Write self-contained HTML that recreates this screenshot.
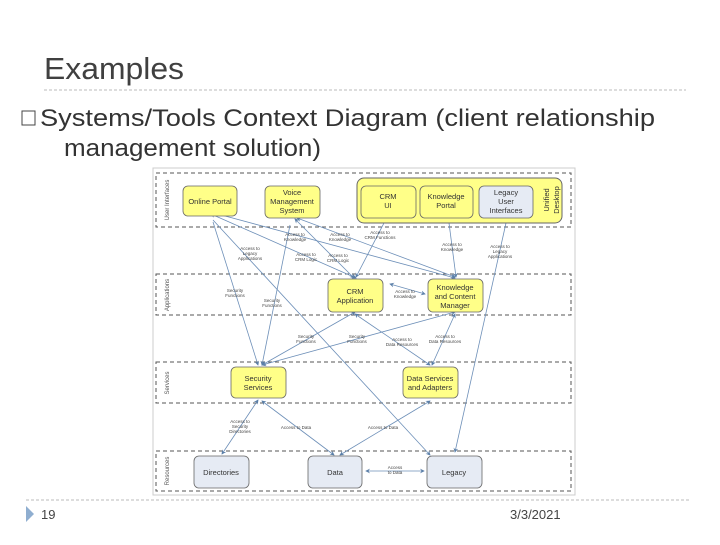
<!DOCTYPE html>
<html><head><meta charset="utf-8"><style>
body{margin:0;width:720px;height:540px;background:#fff;overflow:hidden;font-family:"Liberation Sans",sans-serif}
</style></head><body>
<svg width="720" height="540" viewBox="0 0 720 540" xmlns="http://www.w3.org/2000/svg" font-family="Liberation Sans, sans-serif">
<defs>
<marker id="a" markerWidth="6" markerHeight="6" refX="5" refY="3" orient="auto"><path d="M0,0 L6,3 L0,6 L2,3z" fill="#5b7fa8"/></marker>
<marker id="b" markerWidth="6" markerHeight="6" refX="1" refY="3" orient="auto"><path d="M6,0 L0,3 L6,6 L4,3z" fill="#5b7fa8"/></marker>
</defs>
<text x="44" y="79" font-size="31" fill="#404040" textLength="140" lengthAdjust="spacingAndGlyphs">Examples</text>
<line x1="44" y1="90" x2="686" y2="90" stroke="#bbb" stroke-dasharray="3,2"/>
<rect x="22" y="111" width="13" height="14" fill="none" stroke="#444" stroke-width="1"/>
<text x="40" y="126" font-size="24" fill="#333" textLength="615" lengthAdjust="spacingAndGlyphs">Systems/Tools Context Diagram (client relationship</text>
<text x="64" y="156" font-size="24" fill="#333" textLength="257" lengthAdjust="spacingAndGlyphs">management solution)</text>

<rect x="153" y="168" width="422" height="327" fill="none" stroke="#ccc" stroke-width="1"/>
<g fill="none" stroke="#555" stroke-dasharray="4,3" stroke-width="1">
<rect x="156" y="173" width="415" height="54"/>
<rect x="156" y="274" width="415" height="41"/>
<rect x="156" y="362" width="415" height="41"/>
<rect x="156" y="451" width="415" height="40"/>
</g>
<g font-size="6" fill="#555" text-anchor="middle">
<text transform="translate(169,200) rotate(-90)">User Interfaces</text>
<text transform="translate(169,295) rotate(-90)">Applications</text>
<text transform="translate(169,383) rotate(-90)">Services</text>
<text transform="translate(169,471) rotate(-90)">Resources</text>
</g>

<g stroke="#6d8fb8" stroke-width="0.8" fill="none" marker-end="url(#a)">
<line x1="213" y1="222" x2="258" y2="365"/>
<line x1="290" y1="225" x2="262" y2="365"/>
<line x1="213" y1="220" x2="430" y2="455"/>
<line x1="211" y1="214" x2="356" y2="278" marker-start="url(#b)"/>
<line x1="214" y1="213" x2="455" y2="278" marker-start="url(#b)"/>
<line x1="295" y1="219" x2="354" y2="278" marker-start="url(#b)"/>
<line x1="297" y1="218" x2="455" y2="277" marker-start="url(#b)"/>
<line x1="384" y1="223" x2="356" y2="277"/>
<line x1="449" y1="223" x2="456" y2="277"/>
<line x1="506" y1="223" x2="455" y2="452"/>
<line x1="390" y1="284" x2="425" y2="294" marker-start="url(#b)"/>
<line x1="355" y1="312" x2="262" y2="365" marker-start="url(#b)"/>
<line x1="455" y1="312" x2="262" y2="365" marker-start="url(#b)"/>
<line x1="355" y1="314" x2="430" y2="365" marker-start="url(#b)"/>
<line x1="455" y1="314" x2="432" y2="365" marker-start="url(#b)"/>
<line x1="258" y1="400" x2="222" y2="454" marker-start="url(#b)"/>
<line x1="262" y1="401" x2="334" y2="455" marker-start="url(#b)"/>
<line x1="430" y1="401" x2="340" y2="455" marker-start="url(#b)"/>
<line x1="366" y1="471" x2="424" y2="471" marker-start="url(#b)"/>
</g>

<rect x="357" y="178" width="205" height="45" rx="7" fill="#ffff88" stroke="#666"/>
<g stroke="#666" stroke-width="0.8">
<rect x="183" y="186" width="54" height="30" rx="5" fill="#ffff88"/>
<rect x="265" y="186" width="55" height="32" rx="5" fill="#ffff88"/>
<rect x="361" y="186" width="55" height="32" rx="5" fill="#ffff88"/>
<rect x="420" y="186" width="53" height="32" rx="5" fill="#ffff88"/>
<rect x="479" y="186" width="54" height="32" rx="5" fill="#e6ebf4"/>
<rect x="328" y="279" width="55" height="33" rx="5" fill="#ffff88"/>
<rect x="428" y="279" width="55" height="33" rx="5" fill="#ffff88"/>
<rect x="231" y="367" width="55" height="31" rx="5" fill="#ffff88"/>
<rect x="403" y="367" width="55" height="31" rx="5" fill="#ffff88"/>
<rect x="194" y="456" width="55" height="32" rx="5" fill="#e6ebf4"/>
<rect x="308" y="456" width="54" height="32" rx="5" fill="#e6ebf4"/>
<rect x="427" y="456" width="55" height="32" rx="5" fill="#e6ebf4"/>
</g>
<g font-size="7.5" fill="#333" text-anchor="middle">
<text x="210" y="204">Online Portal</text>
<text x="292" y="195">Voice</text><text x="292" y="204">Management</text><text x="292" y="213">System</text>
<text x="388" y="199">CRM</text><text x="388" y="208">UI</text>
<text x="446" y="199">Knowledge</text><text x="446" y="208">Portal</text>
<text x="506" y="195">Legacy</text><text x="506" y="204">User</text><text x="506" y="213">Interfaces</text>
<text x="355" y="294">CRM</text><text x="355" y="303">Application</text>
<text x="455" y="290">Knowledge</text><text x="455" y="299">and Content</text><text x="455" y="308">Manager</text>
<text x="258" y="381">Security</text><text x="258" y="390">Services</text>
<text x="430" y="381">Data Services</text><text x="430" y="390">and Adapters</text>
<text x="221" y="475">Directories</text>
<text x="335" y="475">Data</text>
<text x="454" y="475">Legacy</text>
<text transform="translate(549,200) rotate(-90)">Unified</text>
<text transform="translate(559,200) rotate(-90)">Desktop</text>
</g>
<g font-size="4.5" fill="#444" text-anchor="middle">
<text x="295" y="236">Access to</text><text x="295" y="241">Knowledge</text>
<text x="340" y="236">Access to</text><text x="340" y="241">Knowledge</text>
<text x="380" y="234">Access to</text><text x="380" y="239">CRM Functions</text>
<text x="250" y="250">Access to</text><text x="250" y="255">Legacy</text><text x="250" y="260">Applications</text>
<text x="306" y="256">Access to</text><text x="306" y="261">CRM Logic</text>
<text x="338" y="257">Access to</text><text x="338" y="262">CRM Logic</text>
<text x="452" y="246">Access to</text><text x="452" y="251">Knowledge</text>
<text x="500" y="248">Access to</text><text x="500" y="253">Legacy</text><text x="500" y="258">Applications</text>
<text x="235" y="292">Security</text><text x="235" y="297">Functions</text>
<text x="272" y="302">Security</text><text x="272" y="307">Functions</text>
<text x="405" y="293">Access to</text><text x="405" y="298">Knowledge</text>
<text x="306" y="338">Security</text><text x="306" y="343">Functions</text>
<text x="357" y="338">Security</text><text x="357" y="343">Functions</text>
<text x="402" y="341">Access to</text><text x="402" y="346">Data Resources</text>
<text x="445" y="338">Access to</text><text x="445" y="343">Data Resources</text>
<text x="240" y="423">Access to</text><text x="240" y="428">Security</text><text x="240" y="433">Directories</text>
<text x="296" y="429">Access to Data</text>
<text x="383" y="429">Access to Data</text>
<text x="395" y="469">Access</text><text x="395" y="474">to Data</text>
</g>

<line x1="26" y1="500" x2="690" y2="500" stroke="#bbb" stroke-dasharray="3,2"/>
<path d="M26,506 L34,514 L26,522z" fill="#8faed0"/>
<text x="41" y="519" font-size="13" fill="#444">19</text>
<text x="510" y="519" font-size="13" fill="#444">3/3/2021</text>
</svg>
</body></html>
